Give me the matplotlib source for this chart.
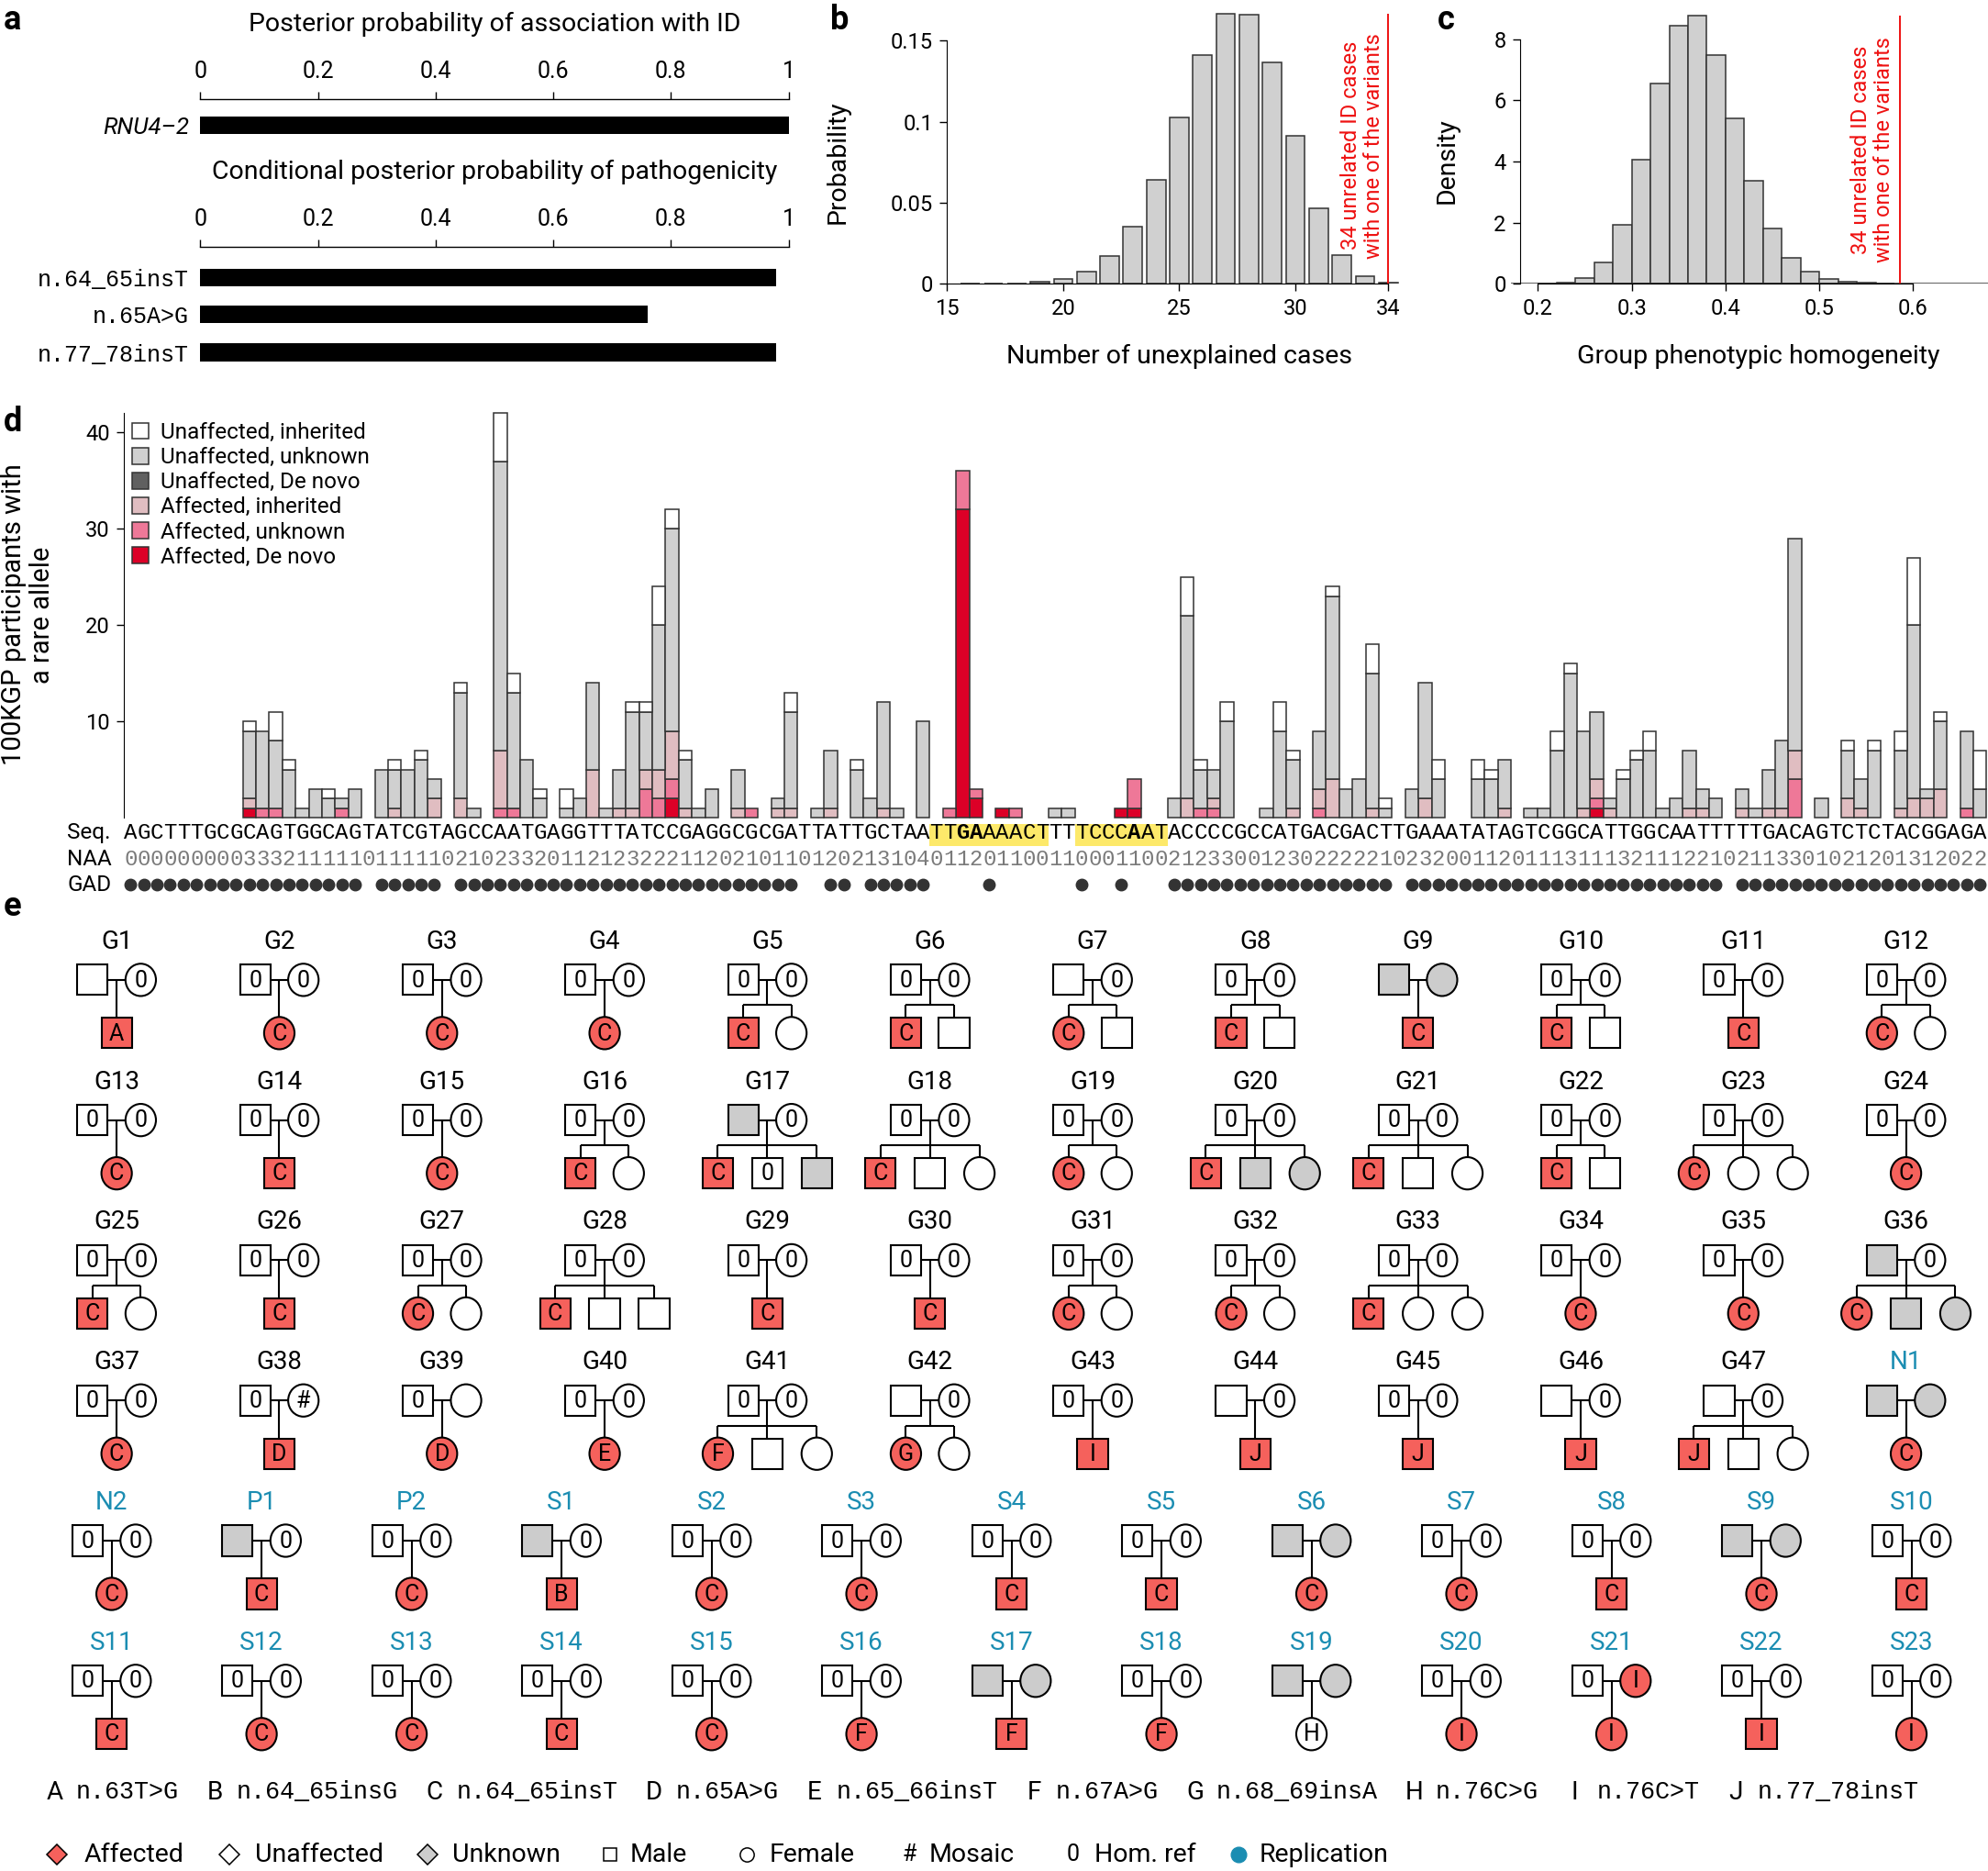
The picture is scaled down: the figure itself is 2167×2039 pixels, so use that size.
import numpy as np
import matplotlib
matplotlib.use('Agg')
import matplotlib.pyplot as plt
from matplotlib.patches import Rectangle, Ellipse, Patch

plt.rcParams['font.family'] = ['Roboto', 'DejaVu Sans']
MONO = 'Liberation Mono'

# ---------------- data ----------------
# a
assoc_genes = ['RNU4\u20132']
assoc_prob = [1.0]
path_variants = ['n.64_65insT', 'n.65A>G', 'n.77_78insT']
path_prob = [0.979, 0.761, 0.978]

# b
unexpl_n = [16, 17, 18, 19, 20, 21, 22, 23, 24, 25, 26, 27, 28, 29, 30, 31, 32, 33, 34]
unexpl_p = [0.0002, 0.0002, 0.0005, 0.0013, 0.0032, 0.0077, 0.0173, 0.0353, 0.0643, 0.1024,
            0.1410, 0.1665, 0.1660, 0.1368, 0.0912, 0.0468, 0.0179, 0.0045, 0.0006]
observed_cases = 34

# c
homog_left = [0.20, 0.22, 0.24, 0.26, 0.28, 0.30, 0.32, 0.34, 0.36, 0.38,
              0.40, 0.42, 0.44, 0.46, 0.48, 0.50, 0.52, 0.54, 0.56]
homog_dens = [0.02, 0.05, 0.19, 0.69, 1.92, 4.05, 6.56, 8.43, 8.76, 7.49,
              5.42, 3.36, 1.81, 0.86, 0.39, 0.16, 0.07, 0.04, 0.01]
observed_homog = 0.586

# d
seq = ('AGCTTTGCGC' 'AGTGGCAGTA' 'TCGTAGCCAA' 'TGAGGTTTAT' 'CCGAGGCGCG' 'ATTATTGCTA'
       'ATTGAAAACT' 'TTTCCCAATA' 'CCCCGCCATG' 'ACGACTTGAA' 'ATATAGTCGG' 'CATTGGCAAT'
       'TTTTGACAGT' 'CTCTACGGAG' 'A')
naa = ('0000000003' '3321111101' '1111021023' '3201121232' '2211202101' '1012021310'
       '4011201100' '1100011002' '1233001230' '2222210232' '0011201113' '1113211122'
       '1021133010' '2120131202' '2')
gad_runs = [(1, 18), (20, 24), (26, 51), (54, 55), (57, 61), (66, 66), (73, 73),
            (76, 76), (80, 96), (98, 121), (123, 141)]
highlight_runs = [(62, 70), (73, 79)]
bold_pos = [64, 65, 77]

aff_denovo = {10: 1, 42: 2, 64: 32, 65: 2, 67: 1, 76: 1, 77: 1, 112: 1}
aff_unknown = {11: 1, 12: 1, 17: 1, 29: 1, 30: 1, 40: 3, 41: 2, 42: 2, 48: 1, 63: 1,
               64: 4, 65: 1, 68: 1, 77: 3, 82: 1, 83: 1, 91: 1, 112: 1, 127: 4, 140: 1}
aff_inherited = {10: 1, 21: 1, 24: 2, 26: 2, 29: 6, 36: 5, 38: 1, 39: 1, 40: 2, 41: 3,
                 42: 5, 43: 1, 47: 1, 50: 1, 51: 1, 54: 1, 58: 1, 81: 2, 83: 1, 89: 1,
                 91: 2, 92: 4, 95: 1, 99: 2, 105: 1, 111: 1, 112: 2, 113: 1, 119: 1,
                 120: 1, 123: 1, 125: 1, 126: 1, 127: 3, 131: 2, 132: 1, 135: 1,
                 136: 2, 137: 2, 138: 3}
unaff_denovo = {}
unaff_unknown = {10: 7, 11: 8, 12: 7, 13: 5, 14: 1, 15: 3, 16: 2, 17: 1, 18: 3, 20: 5,
                 21: 4, 22: 5, 23: 6, 24: 2, 26: 11, 27: 1, 29: 30, 30: 12, 31: 6, 32: 2,
                 34: 1, 35: 2, 36: 9, 37: 1, 38: 4, 39: 10, 40: 6, 41: 15, 42: 21, 43: 5,
                 44: 1, 45: 3, 47: 4, 50: 1, 51: 10, 53: 1, 54: 6, 56: 5, 57: 2, 58: 11,
                 59: 1, 61: 10, 71: 1, 72: 1, 80: 2, 81: 19, 82: 4, 83: 3, 84: 10, 87: 1,
                 88: 9, 89: 5, 91: 6, 92: 19, 93: 3, 94: 4, 95: 14, 96: 1, 98: 3, 99: 12,
                 100: 4, 103: 4, 104: 4, 105: 5, 107: 1, 108: 1, 109: 7, 110: 15, 111: 8,
                 112: 7, 113: 1, 114: 4, 115: 6, 116: 7, 117: 1, 118: 2, 119: 6, 120: 2,
                 121: 2, 123: 2, 124: 1, 125: 4, 126: 7, 127: 22, 129: 2, 131: 5, 132: 3,
                 133: 7, 135: 6, 136: 18, 137: 1, 138: 7, 140: 8, 141: 3}
unaff_inherited = {10: 1, 12: 3, 13: 1, 16: 1, 21: 1, 23: 1, 26: 1, 29: 5, 30: 2, 32: 1,
                   34: 2, 39: 1, 40: 1, 41: 4, 42: 2, 43: 1, 51: 2, 56: 1, 81: 4, 82: 1,
                   84: 2, 88: 3, 89: 1, 92: 1, 95: 3, 96: 1, 100: 2, 103: 2, 104: 1,
                   109: 2, 110: 1, 114: 1, 115: 1, 116: 2, 131: 1, 133: 1, 135: 2,
                   136: 7, 138: 1, 141: 4}

# e  (parent codes: fill u/k/a + optional label; kids: sex + fill + label)
ped_rows = [
    [('G1', 'u', 'u0', ['maA']), ('G2', 'u0', 'u0', ['faC']), ('G3', 'u0', 'u0', ['faC']),
     ('G4', 'u0', 'u0', ['faC']), ('G5', 'u0', 'u0', ['maC', 'fu']), ('G6', 'u0', 'u0', ['maC', 'mu']),
     ('G7', 'u', 'u0', ['faC', 'mu']), ('G8', 'u0', 'u0', ['maC', 'mu']), ('G9', 'k', 'k', ['maC']),
     ('G10', 'u0', 'u0', ['maC', 'mu']), ('G11', 'u0', 'u0', ['maC']), ('G12', 'u0', 'u0', ['faC', 'fu'])],
    [('G13', 'u0', 'u0', ['faC']), ('G14', 'u0', 'u0', ['maC']), ('G15', 'u0', 'u0', ['faC']),
     ('G16', 'u0', 'u0', ['maC', 'fu']), ('G17', 'k', 'u0', ['maC', 'mu0', 'mk']),
     ('G18', 'u0', 'u0', ['maC', 'mu', 'fu']), ('G19', 'u0', 'u0', ['faC', 'fu']),
     ('G20', 'u0', 'u0', ['maC', 'mk', 'fk']), ('G21', 'u0', 'u0', ['maC', 'mu', 'fu']),
     ('G22', 'u0', 'u0', ['maC', 'mu']), ('G23', 'u0', 'u0', ['faC', 'fu', 'fu']), ('G24', 'u0', 'u0', ['faC'])],
    [('G25', 'u0', 'u0', ['maC', 'fu']), ('G26', 'u0', 'u0', ['maC']), ('G27', 'u0', 'u0', ['faC', 'fu']),
     ('G28', 'u0', 'u0', ['maC', 'mu', 'mu']), ('G29', 'u0', 'u0', ['maC']), ('G30', 'u0', 'u0', ['maC']),
     ('G31', 'u0', 'u0', ['faC', 'fu']), ('G32', 'u0', 'u0', ['faC', 'fu']),
     ('G33', 'u0', 'u0', ['maC', 'fu', 'fu']), ('G34', 'u0', 'u0', ['faC']), ('G35', 'u0', 'u0', ['faC']),
     ('G36', 'k', 'u0', ['faC', 'mk', 'fk'])],
    [('G37', 'u0', 'u0', ['faC']), ('G38', 'u0', 'u#', ['maD']), ('G39', 'u0', 'u', ['faD']),
     ('G40', 'u0', 'u0', ['faE']), ('G41', 'u0', 'u0', ['faF', 'mu', 'fu']), ('G42', 'u', 'u0', ['faG', 'fu']),
     ('G43', 'u0', 'u0', ['maI']), ('G44', 'u', 'u0', ['maJ']), ('G45', 'u0', 'u0', ['maJ']),
     ('G46', 'u', 'u0', ['maJ']), ('G47', 'u', 'u0', ['maJ', 'mu', 'fu']), ('N1', 'k', 'k', ['faC'])],
    [('N2', 'u0', 'u0', ['faC']), ('P1', 'k', 'u0', ['maC']), ('P2', 'u0', 'u0', ['faC']),
     ('S1', 'k', 'u0', ['maB']), ('S2', 'u0', 'u0', ['faC']), ('S3', 'u0', 'u0', ['faC']),
     ('S4', 'u0', 'u0', ['maC']), ('S5', 'u0', 'u0', ['maC']), ('S6', 'k', 'k', ['faC']),
     ('S7', 'u0', 'u0', ['faC']), ('S8', 'u0', 'u0', ['maC']), ('S9', 'k', 'k', ['faC']),
     ('S10', 'u0', 'u0', ['maC'])],
    [('S11', 'u0', 'u0', ['maC']), ('S12', 'u0', 'u0', ['faC']), ('S13', 'u0', 'u0', ['faC']),
     ('S14', 'u0', 'u0', ['maC']), ('S15', 'u0', 'u0', ['faC']), ('S16', 'u0', 'u0', ['faF']),
     ('S17', 'k', 'k', ['maF']), ('S18', 'u0', 'u0', ['faF']), ('S19', 'k', 'k', ['fuH']),
     ('S20', 'u0', 'u0', ['faI']), ('S21', 'u0', 'aI', ['faI']), ('S22', 'u0', 'u0', ['maI']),
     ('S23', 'u0', 'u0', ['faI'])],
]
key_letters = ['A', 'B', 'C', 'D', 'E', 'F', 'G', 'H', 'I', 'J']
key_variants = ['n.63T>G', 'n.64_65insG', 'n.64_65insT', 'n.65A>G', 'n.65_66insT',
                'n.67A>G', 'n.68_69insA', 'n.76C>G', 'n.76C>T', 'n.77_78insT']

# ---------------- layout helpers ----------------
W, H = 1568.0, 1476.0   # layout grid, scaled up to 2167x2039 px
fig = plt.figure(figsize=(21.67, 20.39), dpi=100)


def fx(x):
    return x / W


def fy(y):
    return 1 - y / H


def place(xlim, ylim, xref, yref):
    (xd0, px0), (xd1, px1) = xref
    (yd0, py0), (yd1, py1) = yref
    sx = (px1 - px0) / (xd1 - xd0)
    sy = (py1 - py0) / (yd1 - yd0)
    left = px0 + (xlim[0] - xd0) * sx
    right = px0 + (xlim[1] - xd0) * sx
    bot = py0 + (ylim[0] - yd0) * sy
    top = py0 + (ylim[1] - yd0) * sy
    ax = fig.add_axes([left / W, 1 - bot / H, (right - left) / W, (bot - top) / H])
    ax.set_xlim(xlim)
    ax.set_ylim(ylim)
    return ax


RED = '#f5615c'
GREY = '#cccccc'
TEAL = '#1b8db2'
BAR_GREY = '#d0d0d0'
EDGE = '#333333'
LAB = 20.5    # axis titles
TICK = 17

for lab, x, y in [('a', 3, 16), ('b', 655, 16), ('c', 1134, 16), ('d', 3, 333), ('e', 3, 715)]:
    fig.text(fx(x), fy(y), lab, fontsize=26, fontweight='bold', ha='left', va='center')

# ---------------- panel a ----------------
ticks01 = [0, 0.2, 0.4, 0.6, 0.8, 1]
tick01_lab = ['0', '0.2', '0.4', '0.6', '0.8', '1']


def prob_axis(ylim, ypos, vals, labels, **lab_kw):
    ax = place((0, 1), ylim, ((0, 158), (1, 622)), ((0, 0), (1, 1)))
    ax.barh(ypos, vals, height=14, color='black')
    ax.xaxis.tick_top()
    ax.set_xticks(ticks01, tick01_lab)
    for s in ['left', 'right', 'bottom']:
        ax.spines[s].set_visible(False)
    ax.spines['top'].set_linewidth(1.0)
    ax.tick_params(axis='x', length=6, width=1, pad=7, labelsize=18)
    ax.set_yticks(ypos, labels, **lab_kw)
    ax.tick_params(axis='y', length=0, pad=9)
    return ax


fig.text(fx(390), fy(19), 'Posterior probability of association with ID', ha='center', va='center', fontsize=LAB)
prob_axis((108, 78), [99], assoc_prob, assoc_genes, fontstyle='italic', fontsize=18.5)
fig.text(fx(390), fy(136), 'Conditional posterior probability of pathogenicity', ha='center', va='center', fontsize=LAB)
prob_axis((290, 195), [219, 248, 278], path_prob, path_variants, family=MONO, fontsize=18)

# ---------------- panel b ----------------
axb = place((14.4, 34.6), (0, 0.172), ((15, 747), (34, 1095)), ((0, 224), (0.15, 32)))
axb.bar(unexpl_n, unexpl_p, width=0.82, color=BAR_GREY, edgecolor=EDGE, linewidth=1.1, zorder=2)
axb.vlines(observed_cases, 0, 0.1665, color='#ee1111', lw=1.4, zorder=3)
axb.text(observed_cases - 0.17, 0.0158, '34 unrelated ID cases\nwith one of the variants', rotation=90,
         ha='right', va='bottom', multialignment='center', color='#ee1111', fontsize=17, linespacing=1.1)
axb.spines[['top', 'right']].set_visible(False)
axb.spines['left'].set_position(('data', 15))
axb.spines['left'].set_bounds(0, 0.15)
axb.spines['bottom'].set_bounds(15, 34)
axb.set_yticks([0, 0.05, 0.1, 0.15], ['0', '0.05', '0.1', '0.15'])
axb.set_xticks([15, 20, 25, 30, 34])
axb.tick_params(length=6, width=1, labelsize=TICK, pad=5)
fig.text(fx(661), fy(128), 'Probability', rotation=90, ha='center', va='center', fontsize=LAB)
fig.text(fx(930), fy(281), 'Number of unexplained cases', ha='center', va='center', fontsize=LAB)

# ---------------- panel c ----------------
axc = place((0.165, 0.68), (0, 9.0), ((0.2, 1213), (0.6, 1509)), ((0, 224), (8, 31)))
axc.bar(homog_left, homog_dens, width=0.02, align='edge', color=BAR_GREY, edgecolor=EDGE,
        linewidth=1.1, zorder=2)
axc.hlines(0, 0.171, 0.68, color=EDGE, lw=1.1, zorder=2)
axc.vlines(observed_homog, 0, 8.77, color='#ee1111', lw=1.4, zorder=3)
axc.text(observed_homog - 0.006, 0.7, '34 unrelated ID cases\nwith one of the variants', rotation=90,
         ha='right', va='bottom', multialignment='center', color='#ee1111', fontsize=17, linespacing=1.1)
axc.spines[['top', 'right']].set_visible(False)
axc.spines['left'].set_position(('data', 0.181))
axc.spines['left'].set_bounds(0, 8)
axc.spines['bottom'].set_bounds(0.2, 0.6)
axc.set_yticks([0, 2, 4, 6, 8])
axc.set_xticks([0.2, 0.3, 0.4, 0.5, 0.6], ['0.2', '0.3', '0.4', '0.5', '0.6'])
axc.tick_params(length=6, width=1, labelsize=TICK, pad=5)
fig.text(fx(1141), fy(127), 'Density', rotation=90, ha='center', va='center', fontsize=LAB)
fig.text(fx(1387), fy(281), 'Group phenotypic homogeneity', ha='center', va='center', fontsize=LAB)

# ---------------- panel d ----------------
npos = len(seq)
pos = np.arange(1, npos + 1)
axd = place((0.5, 141.6), (0, 42.2), ((0.5, 97.7), (141.5, 1566.9)), ((0, 645), (10, 569)))

cats = [('Affected, De novo', aff_denovo, '#dc0027'),
        ('Affected, unknown', aff_unknown, '#ee7898'),
        ('Affected, inherited', aff_inherited, '#e0bdc1'),
        ('Unaffected, De novo', unaff_denovo, '#606060'),
        ('Unaffected, unknown', unaff_unknown, BAR_GREY),
        ('Unaffected, inherited', unaff_inherited, 'white')]
bottom = np.zeros(npos)
for name, counts, col in cats:
    h = np.array([counts.get(p, 0) for p in pos], dtype=float)
    m = h > 0
    if m.any():
        axd.bar(pos[m], h[m], bottom=bottom[m], width=1.0, color=col, edgecolor=EDGE,
                linewidth=1.1, zorder=2, clip_on=False)
    bottom += h

axd.spines[['top', 'right', 'bottom']].set_visible(False)
axd.spines['left'].set_bounds(0, 42)
axd.set_xticks([])
axd.set_yticks([10, 20, 30, 40])
axd.tick_params(axis='y', length=6, width=1, labelsize=TICK, pad=5)

handles = [Patch(facecolor=c, edgecolor=EDGE, linewidth=1.1) for _, _, c in cats[::-1]]
axd.legend(handles, [n for n, _, _ in cats[::-1]], loc='upper left', bbox_to_anchor=(fx(104), fy(333)),
           bbox_transform=fig.transFigure, frameon=False, fontsize=17.5, handlelength=0.75,
           handleheight=0.75, handletextpad=0.55, labelspacing=0.17, borderpad=0, borderaxespad=0)

fig.text(fx(22), fy(485), '100KGP participants with\na rare allele', rotation=90, ha='center',
         va='center', multialignment='center', fontsize=21, linespacing=1.1)

y_seq, y_naa, y_gad = -1.58, -4.34, -6.97
for a, b in highlight_runs:
    axd.add_patch(Rectangle((a - 0.5, -2.95), b - a + 1, 2.3, facecolor='#fde96a', edgecolor='none',
                            clip_on=False, zorder=1))
for p, ch, n in zip(pos, seq, naa):
    axd.text(p, y_seq, ch, ha='center', va='center', family=MONO, fontsize=17.3,
             fontweight='bold' if p in bold_pos else 'normal', clip_on=False, zorder=3)
    axd.text(p, y_naa, n, ha='center', va='center', family=MONO, fontsize=17.3, color='#7a7a7a',
             clip_on=False)
gad_pos = [p for a, b in gad_runs for p in range(a, b + 1)]
axd.plot(gad_pos, [y_gad] * len(gad_pos), 'o', ms=9, color='#333333', clip_on=False)
for lab, y in [('Seq.', 657), ('NAA', 678), ('GAD', 698)]:
    fig.text(fx(53), fy(y), lab, ha='left', va='center', fontsize=17.5)

# ---------------- panel e ----------------
axe = fig.add_axes([0, 0, 1, 1])
axe.set_xlim(0, W)
axe.set_ylim(H, 0)
axe.axis('off')
axe.patch.set_visible(False)

SZ = 24
LW = 1.5
FILL = {'u': 'white', 'k': GREY, 'a': RED}


def symbol(cx, cy, sex, code):
    fc = FILL[code[0]]
    if sex == 'm':
        axe.add_patch(Rectangle((cx - SZ / 2, cy - SZ / 2), SZ, SZ, facecolor=fc, edgecolor='black',
                                lw=LW, zorder=3))
    else:
        axe.add_patch(Ellipse((cx, cy), SZ, SZ + 1.5, facecolor=fc, edgecolor='black', lw=LW, zorder=3))
    if len(code) > 1:
        axe.text(cx, cy + 0.5, code[1:], ha='center', va='center', fontsize=18, zorder=4)


def family(cx, ty, name, dad, mum, kids):
    axe.text(cx, ty, name, ha='center', va='center', fontsize=20,
             color='black' if name.startswith('G') else TEAL)
    py, ky = ty + 30, ty + 72
    line = dict(color='black', lw=LW, zorder=2, solid_capstyle='butt')
    axe.plot([cx - 8, cx + 8], [py, py], **line)
    symbol(cx - 19, py, 'm', dad)
    symbol(cx + 19, py, 'f', mum)
    n = len(kids)
    if n == 1:
        kx = [cx]
        axe.plot([cx, cx], [py, ky - SZ / 2], **line)
    else:
        step = 38 if n == 2 else 39
        kx = [cx + (i - (n - 1) / 2) * step for i in range(n)]
        sy = py + 20
        axe.plot([cx, cx], [py, sy], **line)
        axe.plot([kx[0], kx[-1]], [sy, sy], **line)
        for x in kx:
            axe.plot([x, x], [sy, ky - SZ / 2], **line)
    for x, k in zip(kx, kids):
        symbol(x, ky, k[0], k[1:])


for r, row in enumerate(ped_rows):
    ty = 743 + r * 110.6
    x0, dx = (92, 128.3) if len(row) == 12 else (88, 118.3)
    for j, (name, dad, mum, kids) in enumerate(row):
        family(x0 + j * dx, ty, name, dad, mum, kids)

# variant key
x = 43
for let, var in zip(key_letters, key_variants):
    axe.text(x, 1414, let, ha='center', va='center', fontsize=20)
    axe.text(x + 17, 1414, var, ha='left', va='center', family=MONO, fontsize=19.3)
    x += 17 + len(var) * 11.6 + 28.5

# symbol legend
ly = 1463
axe.plot(45, ly, 'D', ms=11, mfc=RED, mec='black', mew=1.1)
axe.plot(181, ly, 'D', ms=11, mfc='white', mec='black', mew=1.1)
axe.plot(337, ly, 'D', ms=11, mfc=GREY, mec='black', mew=1.1)
axe.plot(481, ly, 's', ms=10, mfc='white', mec='black', mew=1.1)
axe.plot(589, ly, 'o', ms=11, mfc='white', mec='black', mew=1.1)
axe.text(717, ly, '#', ha='center', va='center', fontsize=18)
axe.text(846, ly, '0', ha='center', va='center', fontsize=18)
axe.plot(977, ly, 'o', ms=12, mfc=TEAL, mec=TEAL)
for lab, xx in [('Affected', 66), ('Unaffected', 201), ('Unknown', 357), ('Male', 497),
                ('Female', 607), ('Mosaic', 733), ('Hom. ref', 863), ('Replication', 993)]:
    axe.text(xx, ly, lab, ha='left', va='center', fontsize=20.5)

fig.savefig('out.png', dpi=100)
